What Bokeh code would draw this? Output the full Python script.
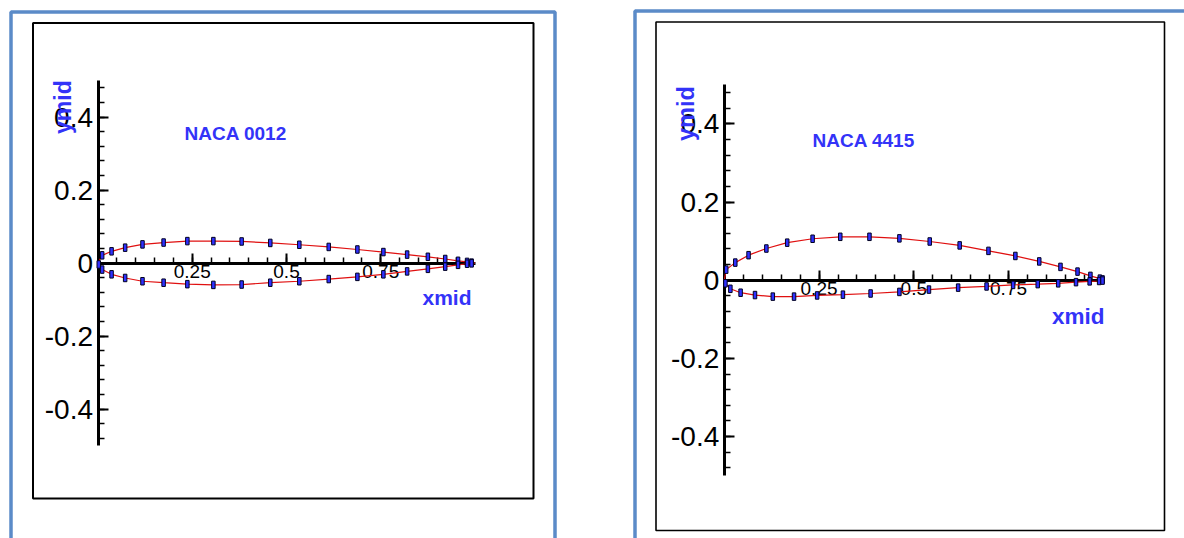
import math
from bokeh.plotting import figure
from bokeh.layouts import row
from bokeh.models import FixedTicker, PrintfTickFormatter, BoxAnnotation, Label
from bokeh.embed import file_html
from bokeh.resources import INLINE

# ---------------- data ----------------
le_x, le_y = 0.0, 0.0
te_x, te_y = 1.0, 0.0

# NACA 0012 panel midpoints
n0012_upper_x = [0.011, 0.036, 0.072, 0.118, 0.174, 0.237, 0.306, 0.381, 0.457, 0.534,
                 0.612, 0.688, 0.757, 0.820, 0.875, 0.921, 0.955, 0.979, 0.991]
n0012_upper_y = [0.021, 0.032, 0.042, 0.051, 0.056, 0.060, 0.060, 0.059, 0.055, 0.050,
                 0.044, 0.037, 0.030, 0.023, 0.017, 0.011, 0.006, 0.003, 0.001]
n0012_lower_x = [0.002, 0.011, 0.036, 0.072, 0.118, 0.174, 0.237, 0.306, 0.381, 0.457,
                 0.534, 0.612, 0.688, 0.757, 0.820, 0.875, 0.921, 0.955, 0.979, 0.991]
n0012_lower_y = [-0.004, -0.018, -0.031, -0.041, -0.050, -0.054, -0.058, -0.060, -0.059, -0.054,
                 -0.050, -0.044, -0.038, -0.031, -0.023, -0.016, -0.010, -0.005, -0.002, -0.001]

# NACA 4415 panel midpoints
n4415_upper_x = [0.005, 0.029, 0.064, 0.111, 0.166, 0.233, 0.306, 0.383, 0.462, 0.542,
                 0.621, 0.697, 0.768, 0.831, 0.887, 0.932, 0.966, 0.991, 0.998]
n4415_upper_y = [0.027, 0.045, 0.064, 0.081, 0.096, 0.106, 0.111, 0.111, 0.107, 0.099,
                 0.089, 0.075, 0.062, 0.048, 0.034, 0.022, 0.011, 0.004, 0.002]
n4415_lower_x = [0.003, 0.016, 0.043, 0.081, 0.128, 0.184, 0.245, 0.313, 0.386, 0.462,
                 0.540, 0.617, 0.692, 0.762, 0.827, 0.881, 0.928, 0.964, 0.989, 0.998]
n4415_lower_y = [-0.008, -0.022, -0.032, -0.038, -0.042, -0.042, -0.039, -0.037, -0.034, -0.030,
                 -0.024, -0.019, -0.016, -0.012, -0.010, -0.008, -0.005, -0.003, -0.002, -0.001]

titles = ["NACA 0012", "NACA 4415"]
x_title = "xmid"
y_title = "ymid"
x_major = [0.25, 0.5, 0.75]
y_major = [-0.4, -0.2, 0.0, 0.2, 0.4]
x_minor = [round(0.05 * i, 2) for i in range(1, 20)]
y_minor = [round(-0.48 + 0.04 * i, 2) for i in range(0, 25)]

# ---------------- styling ----------------
FONT = "Liberation Sans"
BLUE_TXT = "#3333f8"
FRAME_BLUE = "#5b8bc8"
LINE_RED = "#e01010"
MARK_FILL = "#3030ff"
MARK_LINE = "#000020"
H = 538
TOP = 0


def make_panel(width, page_left, x0_page, y0_page, sx, sy, title, title_px, ylab_px,
               xlab_px, ux, uy, lx, ly, blue_box, black_box, black_w, tsize, ysize, xsize):
    x0 = x0_page - page_left
    y0 = y0_page - TOP
    xs, xe = -x0 / sx, (width - x0) / sx
    ye, ys = y0 / sy, -(H - y0) / sy
    p = figure(width=width, height=H, x_range=(xs, xe), y_range=(ys, ye),
               output_backend="svg", toolbar_location=None, min_border=0)
    p.min_border_left = p.min_border_right = p.min_border_top = p.min_border_bottom = 0
    p.outline_line_color = None
    p.xgrid.visible = False
    p.ygrid.visible = False
    p.background_fill_color = "white"
    p.border_fill_color = "white"

    def dx(px):
        return xs + (px - page_left) / sx

    def dy(py):
        return ye - (py - TOP) / sy

    # frames
    bl, br, bt, bb, bw = blue_box
    p.add_layout(BoxAnnotation(left=dx(bl), right=dx(br), top=dy(bt), bottom=dy(bb),
                               fill_alpha=0, line_color=FRAME_BLUE, line_alpha=1,
                               line_width=bw, level="underlay"))
    kl, kr, kt, kb = black_box
    p.add_layout(BoxAnnotation(left=dx(kl), right=dx(kr), top=dy(kt), bottom=dy(kb),
                               fill_alpha=0, line_color="black", line_alpha=1,
                               line_width=black_w, level="underlay"))

    # axes at the origin
    for ax in (p.xaxis[0], p.yaxis[0]):
        ax.fixed_location = 0
        ax.axis_line_width = 3
        ax.axis_line_color = "black"
        ax.major_tick_in = 10
        ax.major_tick_out = 0
        ax.minor_tick_in = 6
        ax.minor_tick_out = 0
        ax.major_tick_line_width = 2
        ax.minor_tick_line_width = 1.5
        ax.major_tick_line_color = "black"
        ax.minor_tick_line_color = "black"
        ax.major_label_text_font = FONT
        ax.major_label_text_color = "black"
        ax.formatter = PrintfTickFormatter(format="%g")
        ax.level = "underlay"
    p.xaxis.bounds = (0, 1)
    p.yaxis.bounds = (-0.5, 0.5)
    p.xaxis.ticker = FixedTicker(ticks=x_major, minor_ticks=x_minor)
    p.yaxis.ticker = FixedTicker(ticks=y_major, minor_ticks=y_minor)
    p.xaxis.major_label_text_font_size = f"{xsize}px"
    p.yaxis.major_label_text_font_size = f"{ysize}px"
    p.xaxis.major_label_standoff = 2
    p.yaxis.major_label_standoff = 5

    # airfoil contour
    line_x = [te_x] + lx[::-1] + [le_x] + ux + [te_x]
    line_y = [te_y] + ly[::-1] + [le_y] + uy + [te_y]
    p.line(line_x, line_y, line_color=LINE_RED, line_width=1.2)
    p.rect(x=ux + lx, y=uy + ly, width=3.5, height=7.5, width_units="screen",
           height_units="screen", fill_color=MARK_FILL, line_color=MARK_LINE, line_width=1)

    # texts
    tx, ty = title_px
    p.add_layout(Label(x=dx(tx), y=dy(ty), text=title, text_font=FONT, text_font_style="bold",
                       text_font_size=f"{tsize}px", text_color=BLUE_TXT,
                       text_align="left", text_baseline="alphabetic"))
    yx, yy, ys_ = ylab_px
    p.add_layout(Label(x=dx(yx), y=dy(yy), text=y_title, text_font=FONT, text_font_style="bold",
                       text_font_size=f"{ys_}px", text_color=BLUE_TXT, angle=math.pi / 2,
                       text_align="left", text_baseline="alphabetic"))
    xx, xy, xs_ = xlab_px
    p.add_layout(Label(x=dx(xx), y=dy(xy), text=x_title, text_font=FONT, text_font_style="bold",
                       text_font_size=f"{xs_}px", text_color=BLUE_TXT,
                       text_align="right", text_baseline="alphabetic"))
    return p


left = make_panel(594, 0, 97.5, 262.5, 377, 365, titles[0], (184, 133), (62, 133.5, 23),
                  (471, 296.5, 21), n0012_upper_x, n0012_upper_y, n0012_lower_x, n0012_lower_y,
                  (10.5, 554.5, 11.5, 600, 3.5), (32.5, 533, 22.5, 498), 2, 19, 28, 19)
right = make_panel(590, 594, 723.8, 279.7, 379, 391, titles[1], (812, 140), (685, 140.5, 23.5),
                   (1104, 316, 22.5), n4415_upper_x, n4415_upper_y, n4415_lower_x, n4415_lower_y,
                   (634.5, 1200, 10.5, 600, 3.5), (655.5, 1164, 21.5, 530), 1.6, 19, 28, 19)

layout = row(left, right, spacing=0)
open("out.html", "w").write(file_html(layout, INLINE))
